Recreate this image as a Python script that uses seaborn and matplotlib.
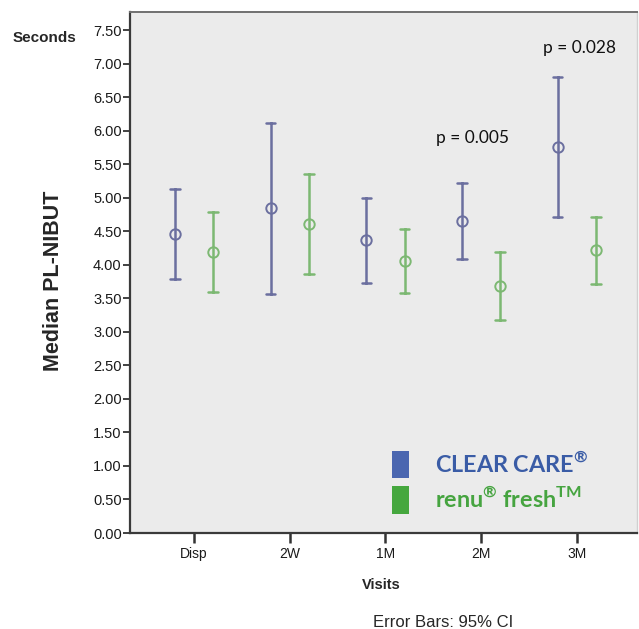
import matplotlib
matplotlib.use("Agg")
import matplotlib.pyplot as plt
from matplotlib.patches import Patch
from matplotlib.ticker import FormatStrFormatter, MultipleLocator
import seaborn as sns
import pandas as pd

# ---data (median and 95% CI per visit)---
visits = ["Disp", "2W", "1M", "2M", "3M"]
groups = ["CLEAR CARE", "renu fresh"]
cc_median = [4.46, 4.84, 4.37, 4.65, 5.76]
cc_lower = [3.79, 3.56, 3.73, 4.09, 4.71]
cc_upper = [5.13, 6.11, 5.00, 5.22, 6.80]
rf_median = [4.19, 4.61, 4.06, 3.68, 4.22]
rf_lower = [3.59, 3.86, 3.58, 3.18, 3.71]
rf_upper = [4.79, 5.35, 4.53, 4.19, 4.71]
p_visits = ["2M", "3M"]
p_labels = ["p = 0.005", "p = 0.028"]
p_heights = [5.89, 7.23]

# long table: each group/visit gets its lower, median and upper value so that
# seaborn's median estimator + min/max errorbar give back the CI
rows = []
for g, med, lo, hi in [(groups[0], cc_median, cc_lower, cc_upper),
                       (groups[1], rf_median, rf_lower, rf_upper)]:
    for v, m, l, h in zip(visits, med, lo, hi):
        for val in (l, m, h):
            rows.append({"visit": v, "group": g, "value": val})
df = pd.DataFrame(rows)

sns.set_style("white")
plt.rcParams["font.family"] = ["Liberation Sans", "DejaVu Sans"]
plt.rcParams["mathtext.fontset"] = "custom"
plt.rcParams["mathtext.rm"] = "Lato"
plt.rcParams["mathtext.bf"] = "Lato:bold"

fig = plt.figure(figsize=(6.39, 6.29), dpi=100)
ax = fig.add_axes([0.2034, 0.1526, 0.7936, 0.8284])
ax.set_facecolor("#ebebeb")

pal = {groups[0]: "#6b6f9f", groups[1]: "#7cb872"}
sns.pointplot(data=df, x="visit", y="value", hue="group", order=visits,
              hue_order=groups, palette=pal, estimator="median",
              errorbar=lambda x: (x.min(), x.max()), dodge=0.4,
              linestyle="none", markers="o", capsize=0.1,
              err_kws={"linewidth": 1.8}, markersize=7.5,
              markeredgewidth=1.4, markerfacecolor="none",
              legend=False, ax=ax)

for v, lab, h in zip(p_visits, p_labels, p_heights):
    xi = visits.index(v)
    ax.text(xi + (0.03 if v == "3M" else -0.09), h, lab, ha="center", va="center",
            fontsize=12.5, family=["Lato", "DejaVu Sans"], color="#111111")

ax.set_xlim(-0.67, 4.63)
ax.set_ylim(0, 7.77)
ax.yaxis.set_major_locator(MultipleLocator(0.5))
ax.yaxis.set_major_formatter(FormatStrFormatter("%.2f"))
ax.tick_params(axis="y", direction="out", length=5, width=1.3, color="#333333",
               labelsize=10.5, pad=1, left=True)
ax.tick_params(axis="x", direction="out", length=7, width=1.8, color="#333333",
               labelsize=10, pad=3, bottom=True)
for t in ax.get_xticklabels() + ax.get_yticklabels():
    t.set_color("#1a1a1a")

for side in ["left", "bottom"]:
    ax.spines[side].set_color("#3a3a3a")
    ax.spines[side].set_linewidth(1.6)
ax.spines["top"].set_color("#707070")
ax.spines["top"].set_linewidth(1.4)
ax.spines["right"].set_color("#d0d0d0")
ax.spines["right"].set_linewidth(1.0)

ax.set_xlabel("")
ax.set_ylabel("")
fig.text(0.083, 0.553, "Median PL-NIBUT", rotation=90, ha="center", va="center",
         fontsize=15.5, fontweight="bold")
fig.text(0.019, 0.939, "Seconds", ha="left", va="center", fontsize=11,
         fontweight="bold")
fig.text(0.566, 0.070, "Visits", ha="left", va="center", fontsize=10.5,
         fontweight="bold")
fig.text(0.583, 0.011, "Error Bars: 95% CI", ha="left", va="center",
         fontsize=12)

handles = [Patch(facecolor="#4a66b0", edgecolor="none"),
           Patch(facecolor="#45a73e", edgecolor="none")]
labels = [r"CLEAR CARE$^{\mathbf{®}}$", r"renu$^{\mathbf{®}}$ fresh$^{\mathbf{TM}}$"]
leg = ax.legend(handles, labels, loc="lower left",
                bbox_to_anchor=(0.475, -0.003), frameon=False,
                handlelength=0.74, handleheight=1.45, handletextpad=1.13,
                labelspacing=0.32,
                prop={"family": ["Lato", "DejaVu Sans"], "weight": "bold",
                      "size": 16.8})
for txt, c in zip(leg.get_texts(), ["#3a5ca6", "#46a440"]):
    txt.set_color(c)

fig.savefig("out.png", dpi=100)
